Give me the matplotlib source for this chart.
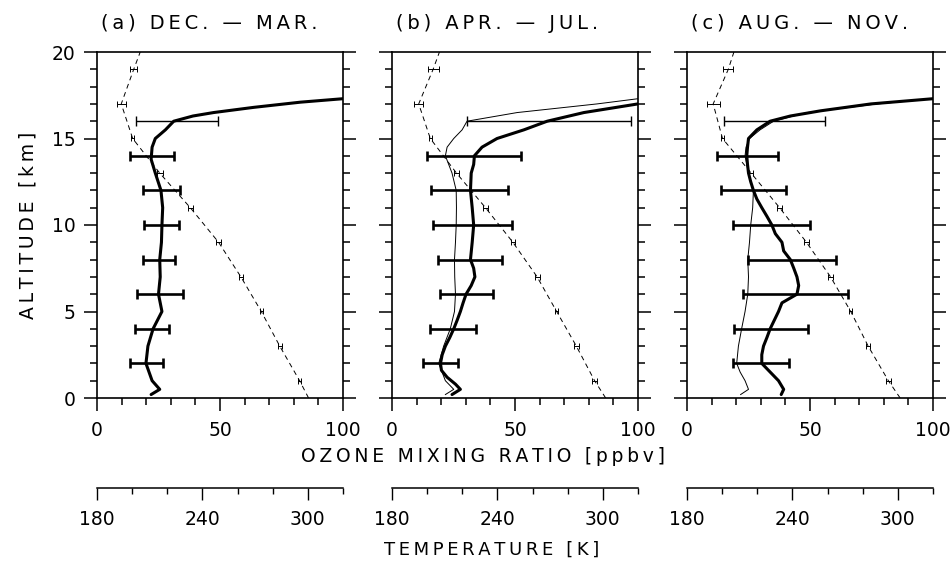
import matplotlib
matplotlib.use('agg')
import matplotlib.pyplot as plt
import numpy as np
from matplotlib.ticker import MultipleLocator

plt.rcParams['font.family'] = ['DejaVu Sans']
plt.rcParams['font.size'] = 13.5

# ---- ozone profiles (altitude km, ozone ppbv) ----
alt_a = [0.2, 0.5, 1, 2, 3, 4, 5, 6, 7, 8, 9, 10, 11, 12, 13, 13.8, 14.5, 15, 15.5, 16, 16.3, 16.5, 16.8, 17.1, 17.3]
o3_a = [22, 25.5, 22.4, 19.9, 20.7, 22.8, 26.4, 25, 25.7, 25.5, 26.2, 26.4, 26.7, 26, 23.7, 22, 22.4, 23.7, 27.8, 31.2, 39, 47.4, 63.7, 82.7, 100]

alt_b = [0.2, 0.5, 0.8, 1.2, 1.6, 2, 2.5, 3, 3.5, 4, 4.5, 5, 5.5, 6, 6.5, 7, 7.5, 8, 9, 10, 11, 12, 13, 13.5, 14, 14.5, 15, 15.5, 16, 16.5, 17]
o3_b = [24.4, 27.8, 25.8, 22.4, 20.1, 19.7, 20.4, 21.7, 23.5, 25.1, 26.5, 27.8, 28.9, 30.1, 32.2, 33.7, 33.2, 31.9, 32.6, 33.2, 32.6, 31.9, 32.2, 33.2, 33.5, 36.6, 42.7, 53.6, 63.1, 78, 100]
alt_b_thin = [0.2, 0.5, 1, 2, 3, 4, 5, 6, 7, 8, 9, 10, 11, 12, 13, 14, 14.5, 15, 15.5, 16, 16.5, 17, 17.3]
o3_b_thin = [21.7, 25.1, 21.7, 19, 21, 23.7, 25.4, 25.8, 25.5, 25.4, 25.8, 26.1, 26.2, 26.1, 24.4, 21.7, 22.4, 25.1, 28.5, 30.5, 50.9, 83.4, 100]

alt_c = [0.2, 0.5, 1, 1.5, 2, 2.5, 3, 3.5, 4, 4.5, 5, 5.5, 6, 6.5, 7, 7.5, 8, 8.5, 9, 9.5, 10, 10.5, 11, 11.5, 12, 12.5, 13, 13.5, 14, 14.5, 15, 15.5, 16, 16.3, 16.6, 17, 17.3]
o3_c = [38.3, 39.3, 37.2, 33.8, 30.4, 30.4, 31.1, 32.5, 33.8, 35.5, 37.2, 38.6, 44.7, 45.4, 44.7, 43.4, 42, 39.3, 38.6, 35.9, 34.5, 32.5, 30.4, 28.4, 27, 25.9, 25, 24.6, 24.3, 24.6, 25, 28.4, 33.8, 42, 54.3, 74.8, 100]
alt_c_thin = [0.2, 0.5, 1, 1.5, 2, 3, 4, 5, 6, 7, 8, 9, 10, 11, 12, 13, 14, 14.5, 15, 15.5, 16, 16.5, 17, 17.3]
o3_c_thin = [21.8, 25, 23.6, 21.6, 20.2, 20.9, 22.2, 23.6, 24.7, 25, 24.7, 25.4, 25.9, 26.7, 27, 25, 23.6, 24, 25.4, 29.7, 35.2, 48.8, 77.5, 100]

# ---- ozone error bars (low / high ppbv) every 2 km ----
bar_alt = [2, 4, 6, 8, 10, 12, 14, 16]
bar_lo_a = [13.6, 15.6, 16.3, 18.7, 19.2, 18.7, 13.3, 16.0]
bar_hi_a = [26.7, 29.1, 35.0, 31.6, 33.2, 33.9, 31.2, 49.0]
bar_lo_b = [12.6, 15.3, 19.4, 18.7, 16.7, 16.0, 14.2, 30.5]
bar_hi_b = [26.9, 34.1, 41.1, 44.8, 48.8, 47.2, 52.5, 97.0]
bar_lo_c = [18.8, 19.2, 22.6, 24.6, 18.8, 13.8, 12.0, 15.0]
bar_hi_c = [41.6, 49.1, 65.6, 60.4, 50.2, 40.2, 37.1, 56.2]

# ---- temperature profiles (K) ----
t_alt = [0, 1, 3, 5, 7, 9, 11, 13, 15, 17, 19, 20]
temp_a = [300.4, 295.3, 284.0, 273.5, 261.9, 249.2, 233.1, 215.7, 200.3, 193.8, 200.9, 204.6]
temp_b = [301.6, 295.3, 284.9, 273.7, 262.6, 248.8, 233.2, 216.7, 201.8, 195.2, 203.4, 207.0]
temp_c = [301.3, 294.6, 283.1, 273.2, 261.7, 248.0, 232.7, 216.5, 200.2, 194.9, 203.5, 206.7]
terr_alt = [1, 3, 5, 7, 9, 11, 13, 15, 17, 19]
terr_a = [0.9, 1.2, 0.8, 1.0, 1.3, 1.4, 1.6, 0.8, 2.7, 2.1]
terr_b = [1.4, 1.6, 1.0, 1.5, 1.0, 1.3, 1.5, 0.8, 2.5, 3.1]
terr_c = [1.4, 1.3, 0.9, 1.4, 1.4, 1.4, 1.0, 0.8, 3.8, 2.9]

titles = ['(a) DEC. \u2014 MAR.', '(b) APR. \u2014 JUL.', '(c) AUG. \u2014 NOV.']


def spaced(s):
    return '\u2009'.join(s)


W, H = 953, 563
fig = plt.figure(figsize=(W / 100, H / 100), dpi=100)
lefts = [97, 392, 687]

panels = [
    (alt_a, o3_a, None, None, bar_lo_a, bar_hi_a, temp_a, terr_a),
    (alt_b, o3_b, alt_b_thin, o3_b_thin, bar_lo_b, bar_hi_b, temp_b, terr_b),
    (alt_c, o3_c, alt_c_thin, o3_c_thin, bar_lo_c, bar_hi_c, temp_c, terr_c),
]

for i, (alt, o3, alt_t, o3_t, lo, hi, temp, terr) in enumerate(panels):
    ax = fig.add_axes([lefts[i] / W, 1 - 398 / H, 246 / W, 346 / H])
    ax.set_xlim(0, 100)
    ax.set_ylim(0, 20)

    if alt_t is not None:
        ax.plot(o3_t, alt_t, color='black', lw=0.7)
    ax.plot(o3, alt, color='black', lw=2.2, solid_capstyle='round')

    lo = np.array(lo)
    hi = np.array(hi)
    mid = (lo + hi) / 2
    half = (hi - lo) / 2
    ax.errorbar(mid[:-1], bar_alt[:-1], xerr=half[:-1], fmt='none',
                ecolor='black', elinewidth=1.9, capsize=3.3, capthick=1.9)
    ax.errorbar(mid[-1:], bar_alt[-1:], xerr=half[-1:], fmt='none',
                ecolor='black', elinewidth=1.0, capsize=3.3, capthick=1.0)

    ax.xaxis.set_major_locator(MultipleLocator(50))
    ax.xaxis.set_minor_locator(MultipleLocator(10))
    ax.yaxis.set_major_locator(MultipleLocator(5))
    ax.yaxis.set_minor_locator(MultipleLocator(1))
    ax.tick_params(which='both', direction='out', top=True, right=True,
                   width=1.1)
    ax.tick_params(which='major', length=9.5)
    ax.tick_params(which='minor', length=5)
    ax.tick_params(axis='x', pad=7)
    ax.tick_params(axis='y', pad=6)
    if i > 0:
        ax.tick_params(axis='y', labelleft=False)
    for s in ax.spines.values():
        s.set_linewidth(1.2)

    # temperature on its own scale, axis drawn below the panel
    axt = ax.twiny()
    axt.set_xlim(180, 320)
    axt.errorbar([temp[t_alt.index(a)] for a in terr_alt],
                 terr_alt, xerr=terr, fmt='none', ecolor='black',
                 elinewidth=0.7, capsize=2.2, capthick=0.7)
    axt.plot(temp, t_alt, color='black', lw=0.7, linestyle=(0, (5, 4)))
    for k in ['top', 'left', 'right']:
        axt.spines[k].set_visible(False)
    axt.xaxis.set_ticks_position('bottom')
    axt.xaxis.set_label_position('bottom')
    axt.spines['bottom'].set_position(('outward', 64.8))
    axt.spines['bottom'].set_linewidth(1.1)
    axt.set_xticks([180, 240, 300])
    axt.xaxis.set_minor_locator(MultipleLocator(20))
    axt.tick_params(which='both', direction='out', width=1.0, pad=7)
    axt.tick_params(which='major', length=8.5)
    axt.tick_params(which='minor', length=4.3)

    ax.text(0.015, 1.055, spaced(titles[i]), transform=ax.transAxes,
            ha='left', va='bottom', fontsize=14)

    if i == 0:
        ax.set_ylabel(spaced('ALTITUDE [km]'), labelpad=10)

fig.text(483 / W, 1 - 457 / H, spaced('OZONE MIXING RATIO [ppbv]'),
         ha='center', va='center')
fig.text(492 / W, 1 - 550 / H, spaced('TEMPERATURE [K]'),
         ha='center', va='center', fontsize=13)

fig.savefig('out.png', dpi=100)
